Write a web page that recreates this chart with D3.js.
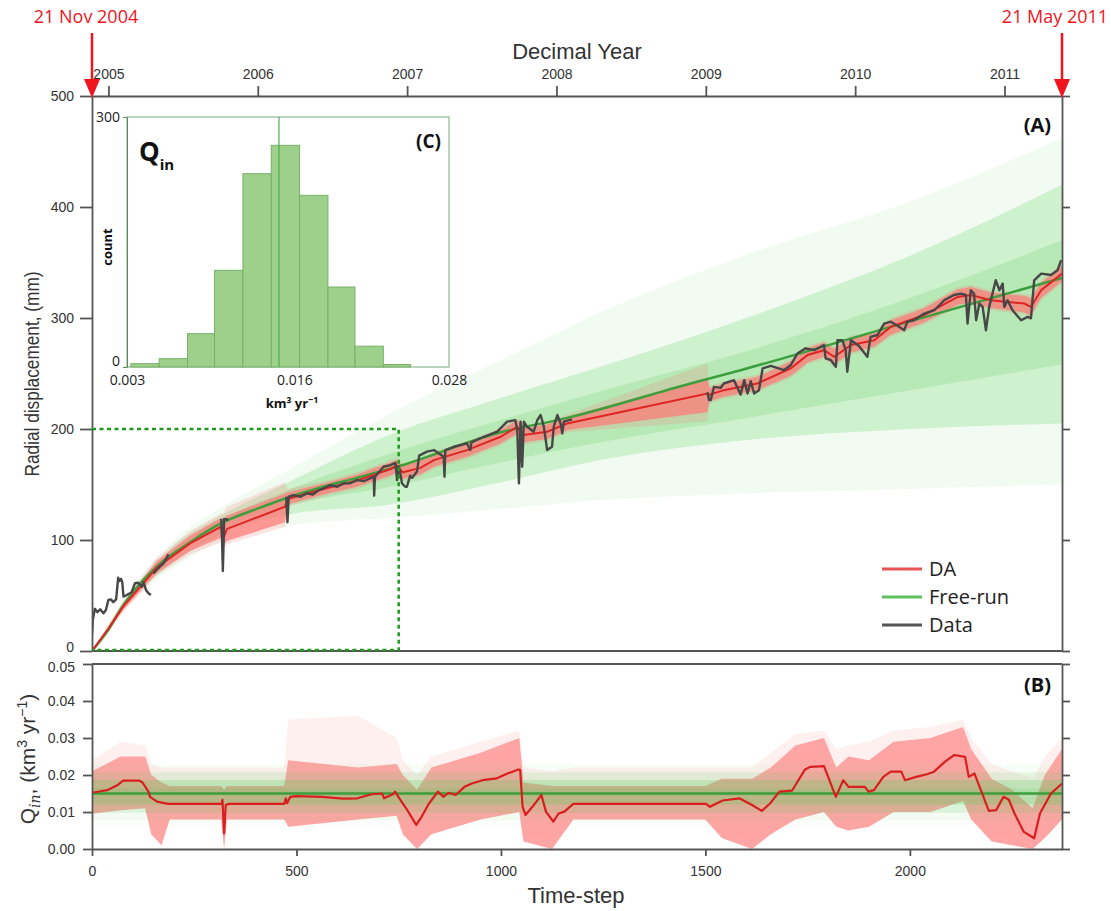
<!DOCTYPE html>
<html><head><meta charset="utf-8">
<script src="https://cdn.jsdelivr.net/npm/d3@7"></script>
<style>body{margin:0;background:#fff}svg{display:block}</style>
</head><body>
<svg id="c" width="1111" height="911"></svg>
<script>
// ---------- axes / ticks ----------
const stepDomain = [0, 2372];
const yearDomain = [2004.89, 2011.385];
const yearTicks = [2005, 2006, 2007, 2008, 2009, 2010, 2011];
const dispTicks = [0, 100, 200, 300, 400, 500];
const qTicks = [0, 0.01, 0.02, 0.03, 0.04, 0.05];
const stepTicks = [0, 500, 1000, 1500, 2000];
const startLabel = "21 Nov 2004", endLabel = "21 May 2011";
const legendNames = ["DA", "Free-run", "Data"];

// ---------- panel A: free-run mean ----------
const freeT = [0, 40, 76, 158, 240, 321, 403, 485, 566, 648, 746, 1000, 1162, 1464, 1586, 2000, 2372];
const freeV = [0, 19, 41, 76, 98, 116, 128, 139, 148, 156, 166, 197, 210, 241, 253, 297, 336];

// ---------- panel A: free-run ensemble envelopes ----------
const fanT       = [0, 100, 200, 320, 480, 730, 1000, 1243, 1600, 2000, 2372];
const fanFaintHi = [0, 58, 100, 130, 163, 214, 262, 305, 357, 405, 462];
const fanHi      = [0, 55, 95, 123, 152, 195, 228, 256, 300, 356, 420];
const fanCoreHi  = [0, 53, 91, 119, 145, 178, 208, 234, 270, 318, 370];
const fanCoreLo  = [0, 50, 85, 112, 131, 148, 170, 188, 210, 235, 258];
const fanLo      = [0, 48, 80, 106, 123, 132, 152, 172, 190, 200, 205];
const fanFaintLo = [0, 45, 75, 100, 113, 120, 128, 136, 142, 146, 150];

// ---------- panel A: DA mean and spread ----------
const daT = [0, 40, 76, 158, 240, 316, 320, 330, 472, 478, 566, 648, 730, 746, 760, 803, 836, 917, 999, 1040, 1056, 1113, 1162, 1505, 1510, 1545, 1627, 1709, 1750, 1790, 1815, 1856, 1913, 1953, 2035, 2117, 2149, 2198, 2280, 2296, 2321, 2372];
const daV = [0, 20, 40, 75, 97, 112, 100, 110, 130, 137, 146, 153.5, 164, 167, 161, 165, 172, 181, 193, 202, 194.6, 197.6, 205, 232, 231, 235, 241, 254.7, 266.7, 271, 265, 275.7, 280, 292, 302.7, 319, 320.7, 316, 313, 310, 325, 340];
const daLo = [0, 18, 37, 70, 90, 102, 95, 99, 116, 132, 141, 148, 158, 161, 155, 159, 166, 175, 187, 196, 188, 191, 199, 215, 225, 229, 235, 248, 260, 265, 258, 269, 274, 285, 296, 312, 314, 309, 305, 302, 318, 333];
const daHi = [0, 22, 43, 81, 104, 120, 118, 122, 142, 143, 151, 159, 170, 172, 167, 172, 178, 187, 199, 208, 201, 204, 211, 246, 237, 241, 247, 261, 273, 278, 272, 282, 286, 298, 309, 326, 328, 323, 320, 318, 332, 347];
const daFaintLo = [0, 17, 35, 68, 87, 98, 92, 96, 112, 130, 139, 146, 156, 159, 153, 157, 164, 173, 185, 194, 186, 189, 197, 207, 223, 227, 233, 246, 258, 263, 256, 267, 272, 283, 294, 310, 312, 307, 303, 300, 316, 331];
const daFaintHi = [0, 23, 45, 84, 108, 124, 124, 130, 152, 146, 153, 161, 172, 174, 169, 174, 180, 189, 201, 210, 203, 206, 213, 259, 239, 243, 249, 263, 275, 280, 274, 284, 288, 300, 311, 328, 330, 325, 322, 320, 334, 349];

// ---------- panel A: observed data (null = gap) ----------
const obsT = [0, 2, 7, 13, 20, 28, 34, 40, 46, 52, 59, 64, 67, 71, 74, 77, 85, 97, 105, 113, 122, 126, 132, 138, 144, null,
  150, 158, 166, 175, 187, null,
  316, 318, 320, 322, 323, 330, 334, null,
  475, 478, 481, 493, 510, 525, 540, 555, 566, 583, 600, 615, 630, 648, 665, 689, 690, 692, 713, 730, 742, 746, 750, 754, 758, 766, 770, 778, 783, 795, 800, 819, 836, 860, 862, 864, 885, 917, 925, 928, 958, 991, 1015, 1035, 1040, 1044, 1048, 1052, 1056, 1064, 1080, 1089, 1097, 1105, 1113, 1125, 1129, 1138, 1146, 1150, 1154, 1174, null,
  1505, 1509, 1513, 1521, 1537, 1545, 1570, 1586, 1595, 1603, 1611, 1619, 1631, 1640, 1660, 1692, 1709, 1725, 1745, 1766, 1790, 1794, 1807, 1819, 1823, 1835, 1843, 1847, 1856, 1875, 1896, 1904, 1921, 1937, 1953, 1970, 1986, 1994, 2010, 2035, 2060, 2084, 2108, 2125, 2137, 2141, 2149, 2157, 2162, 2170, 2178, 2186, 2194, 2210, 2219, 2227, 2231, 2239, 2251, 2272, 2288, 2296, 2304, 2321, 2345, 2361, 2370];
const obsV = [15, 28, 38, 35, 37.5, 34, 37, 46, 46.5, 44, 46.5, 66, 63, 65, 62, 49, 50.5, 53, 61, 61.5, 58, 62, 55, 52, 50.5, null,
  70, 73, 76, 79, 87, null,
  119, 100, 72, 100, 119, 118.5, 118, null,
  139, 116, 139, 140.5, 139, 142, 141, 145, 146.6, 149.5, 148, 151, 151, 154, 153, 157, 140, 157, 166, 167.5, 169.5, 154, 166, 160, 151, 148, 148, 158, 156, 162, 176, 179.6, 181, 175, 157, 181, 184, 187, 181, 188, 193, 197.6, 206.6, 208, 199, 151, 206.6, 166, 206.6, 202, 197.6, 208, 212.6, 202, 181, 184, 202, 212.6, 205, 196, 206.6, 208.7, null,
  233, 226, 226, 238, 237, 241, 244, 231, 244, 232, 243, 232, 235, 254.7, 256.8, 253, 257.7, 268, 272.7, 271, 275.7, 263.7, 262, 256, 280, 280, 271, 251.6, 280, 275, 265, 283, 284.7, 295, 296.7, 293, 289, 296.7, 298, 304, 307, 316, 320.7, 322, 320.7, 295, 325, 322, 298, 313, 310, 289, 310, 334, 325, 331, 310, 316, 307, 298, 301, 299.7, 334, 340, 338.7, 343, 352];

// ---------- panel B: Q_in ----------
const qFree = 0.015;
const qDaT = [0, 37, 63, 76, 116, 124, 138, 142, 159, 186, 317, 319, 323, 327, 334, 470, 474, 477, 485, 500, 562, 614, 649, 684, 710, 714, 736, 741, 754, 771, 793, 806, 824, 846, 859, 872, 889, 911, 929, 955, 990, 1016, 1043, 1047, 1053, 1060, 1077, 1099, 1110, 1128, 1141, 1155, 1177, 1502, 1511, 1542, 1583, 1614, 1638, 1658, 1681, 1712, 1743, 1756, 1790, 1819, 1837, 1850, 1890, 1899, 1912, 1935, 1953, 1979, 1988, 2015, 2042, 2059, 2086, 2108, 2135, 2144, 2158, 2175, 2193, 2211, 2229, 2242, 2256, 2278, 2304, 2318, 2345, 2372];
const qDaV = [0.0152, 0.0159, 0.0173, 0.0185, 0.0185, 0.0179, 0.0155, 0.0141, 0.0128, 0.0122, 0.0122, 0.0133, 0.0042, 0.0119, 0.0122, 0.0122, 0.0137, 0.0124, 0.0141, 0.0143, 0.0141, 0.0136, 0.0137, 0.0148, 0.0150, 0.0137, 0.0148, 0.0155, 0.0133, 0.0105, 0.0065, 0.0087, 0.0123, 0.0155, 0.0141, 0.0152, 0.0146, 0.0168, 0.0177, 0.0186, 0.0191, 0.0204, 0.0215, 0.0214, 0.0114, 0.0092, 0.0114, 0.0146, 0.0101, 0.0074, 0.0096, 0.0101, 0.0122, 0.0122, 0.0114, 0.0131, 0.0137, 0.0119, 0.0103, 0.0123, 0.0155, 0.0158, 0.0214, 0.0222, 0.0224, 0.0141, 0.0186, 0.0168, 0.0168, 0.0155, 0.0159, 0.0195, 0.0209, 0.0209, 0.0186, 0.0195, 0.0202, 0.0209, 0.0236, 0.0254, 0.0249, 0.0195, 0.0204, 0.0155, 0.0103, 0.0105, 0.0141, 0.0133, 0.0096, 0.0047, 0.0029, 0.0096, 0.0150, 0.0177];
const qBandT  = [0, 70, 130, 145, 170, 190, 316, 323, 330, 470, 480, 650, 745, 760, 795, 830, 950, 1045, 1055, 1125, 1177, 1500, 1540, 1614, 1660, 1720, 1790, 1820, 1850, 1900, 1960, 2050, 2130, 2150, 2200, 2250, 2300, 2330, 2372];
const qBandLo = [0.0095, 0.0105, 0.011, 0.004, 0.001, 0.008, 0.008, 0.000, 0.008, 0.008, 0.006, 0.008, 0.009, 0.004, 0.000, 0.004, 0.008, 0.010, 0.002, 0.000, 0.008, 0.008, 0.003, 0.000, 0.004, 0.008, 0.010, 0.006, 0.005, 0.006, 0.010, 0.010, 0.013, 0.008, 0.002, 0.001, 0.000, 0.003, 0.008];
const qBandHi = [0.021, 0.025, 0.025, 0.020, 0.018, 0.017, 0.017, 0.016, 0.017, 0.017, 0.024, 0.022, 0.023, 0.020, 0.016, 0.022, 0.026, 0.030, 0.018, 0.017, 0.017, 0.017, 0.019, 0.019, 0.022, 0.028, 0.030, 0.022, 0.025, 0.024, 0.029, 0.030, 0.033, 0.027, 0.019, 0.016, 0.011, 0.020, 0.027];
const qBandFaintHi = [0.024, 0.029, 0.028, 0.023, 0.022, 0.022, 0.022, 0.022, 0.022, 0.022, 0.035, 0.036, 0.030, 0.024, 0.020, 0.025, 0.029, 0.032, 0.022, 0.021, 0.022, 0.022, 0.022, 0.022, 0.026, 0.031, 0.032, 0.027, 0.028, 0.029, 0.032, 0.033, 0.035, 0.030, 0.023, 0.021, 0.019, 0.025, 0.030];

// ---------- panel C: histogram of free-run Q_in ----------
const binEdges  = [0.0033, 0.0055, 0.0077, 0.0098, 0.0120, 0.0142, 0.0164, 0.0186, 0.0207, 0.0229, 0.0250];
const binCounts = [4, 10, 40, 116, 232, 266, 206, 96, 25, 3];
const histMean = 0.0148;
const histXTicks = [0.003, 0.016, 0.028];
const histYTicks = [0, 300];
const markStep = 750, markDisp = 200;

// =====================================================
const svg = d3.select("#c");
const NUM = "Liberation Sans, Arial, sans-serif";
const ANN = "Open Sans, sans-serif";
const AX = "#555";

const x = d3.scaleLinear().domain(stepDomain).range([92, 1062]);
const xYear = d3.scaleLinear().domain(yearDomain).range([92, 1062]);
const yA = d3.scaleLinear().domain([0, 500]).range([651, 96]);
const yB = d3.scaleLinear().domain([0, 0.05]).range([849, 664]);
const xH = d3.scaleLinear().domain([0.003, 0.028]).range([127, 449]);
const yH = d3.scaleLinear().domain([0, 300]).range([367, 117]);

const defs = svg.append("defs");
defs.append("clipPath").attr("id", "clipA").append("rect")
  .attr("x", 92).attr("y", 96).attr("width", 970).attr("height", 555);
defs.append("clipPath").attr("id", "clipB").append("rect")
  .attr("x", 92).attr("y", 664).attr("width", 970).attr("height", 185);

function band(T, lo, hi, ys, curve) {
  return d3.area().curve(curve || d3.curveLinear)
    .x(i => x(T[i])).y0(i => ys(lo[i])).y1(i => ys(hi[i]))(d3.range(T.length));
}

// ---------- panel A content ----------
const gA = svg.append("g").attr("clip-path", "url(#clipA)");
const fanCol = "#62cf62";
gA.append("path").attr("d", band(fanT, fanFaintLo, fanFaintHi, yA, d3.curveMonotoneX)).attr("fill", fanCol).attr("opacity", 0.09);
gA.append("path").attr("d", band(fanT, fanLo, fanHi, yA, d3.curveMonotoneX)).attr("fill", fanCol).attr("opacity", 0.24);
gA.append("path").attr("d", band(fanT, fanCoreLo, fanCoreHi, yA, d3.curveMonotoneX)).attr("fill", fanCol).attr("opacity", 0.22);

gA.append("path").attr("d", band(daT, daFaintLo, daFaintHi, yA)).attr("fill", "#f77").attr("opacity", 0.2);
gA.append("path").attr("d", band(daT, daLo, daHi, yA)).attr("fill", "#f77").attr("opacity", 0.7);

gA.append("path")
  .attr("d", d3.line().curve(d3.curveMonotoneX).x(i => x(freeT[i])).y(i => yA(freeV[i]))(d3.range(freeT.length)))
  .attr("fill", "none").attr("stroke", "#3c9e3c").attr("stroke-width", 2.5);
gA.append("path")
  .attr("d", d3.line().x(i => x(daT[i])).y(i => yA(daV[i]))(d3.range(daT.length)))
  .attr("fill", "none").attr("stroke", "#e02424").attr("stroke-width", 2);
gA.append("path")
  .attr("d", d3.line().defined(i => obsV[i] !== null).x(i => x(obsT[i])).y(i => yA(obsV[i]))(d3.range(obsT.length)))
  .attr("fill", "none").attr("stroke", "#474747").attr("stroke-width", 2.4).attr("stroke-linejoin", "round");

// ---------- panel B content ----------
const gB = svg.append("g").attr("clip-path", "url(#clipB)");
gB.append("path").attr("d", band(qBandT, qBandLo, qBandFaintHi, yB)).attr("fill", "#f88").attr("opacity", 0.13);
gB.append("path").attr("d", band(qBandT, qBandLo, qBandHi, yB)).attr("fill", "#f88").attr("opacity", 0.72);
const maxC = d3.max(binCounts);
gB.selectAll("rect.qb").data(binCounts).join("rect").attr("class", "qb")
  .attr("x", 92).attr("width", 970)
  .attr("y", (c, i) => yB(binEdges[i + 1])).attr("height", (c, i) => yB(binEdges[i]) - yB(binEdges[i + 1]))
  .attr("fill", "#5ccc5c").attr("opacity", c => 0.5 * c / maxC);
gB.append("line").attr("x1", x(stepDomain[0])).attr("x2", x(stepDomain[1]))
  .attr("y1", yB(qFree)).attr("y2", yB(qFree)).attr("stroke", "#3c9e3c").attr("stroke-width", 2.6);
gB.append("path")
  .attr("d", d3.line().x(i => x(qDaT[i])).y(i => yB(qDaV[i]))(d3.range(qDaT.length)))
  .attr("fill", "none").attr("stroke", "#d81e1e").attr("stroke-width", 2.2).attr("stroke-linejoin", "round");

// ---------- axes ----------
function styleAxis(g, fs) {
  g.selectAll("path,line").attr("stroke", AX).attr("stroke-width", 1.8);
  g.selectAll("text").attr("fill", "#333").style("font-family", NUM).style("font-size", (fs || 14) + "px");
}
svg.append("g").attr("transform", "translate(0,96)")
  .call(d3.axisTop(xYear).tickValues(yearTicks).tickFormat(d3.format("d")).tickSize(10).tickSizeOuter(0).tickPadding(7))
  .call(g => styleAxis(g, 14));
svg.append("g").attr("transform", "translate(92,0)")
  .call(d3.axisLeft(yA).tickValues(dispTicks).tickSize(12).tickSizeOuter(0).tickPadding(6)).call(g => styleAxis(g))
  .call(g => g.selectAll(".tick text").filter(d => d === 0).attr("dy", "0.05em"));
svg.append("g").attr("transform", "translate(1062,0)")
  .call(d3.axisRight(yA).tickValues(dispTicks).tickSize(8).tickSizeOuter(0).tickFormat("")).call(g => styleAxis(g));
svg.append("line").attr("x1", 92).attr("x2", 1062).attr("y1", 651).attr("y2", 651).attr("stroke", AX).attr("stroke-width", 1.8);

svg.append("g").attr("transform", "translate(92,0)")
  .call(d3.axisLeft(yB).tickValues(qTicks).tickFormat(d3.format(".2f")).tickSize(9).tickSizeOuter(0).tickPadding(8)).call(g => styleAxis(g))
  .call(g => g.selectAll(".tick text").filter(d => d === 0.05).attr("dy", "0.5em"));
svg.append("g").attr("transform", "translate(1062,0)")
  .call(d3.axisRight(yB).tickValues(qTicks).tickSize(8).tickSizeOuter(0).tickFormat("")).call(g => styleAxis(g));
svg.append("g").attr("transform", "translate(0,849)")
  .call(d3.axisBottom(x).tickValues(stepTicks).tickFormat(d3.format("d")).tickSize(7).tickSizeOuter(0).tickPadding(10)).call(g => styleAxis(g));
svg.append("line").attr("x1", 92).attr("x2", 1062).attr("y1", 664).attr("y2", 664).attr("stroke", AX).attr("stroke-width", 1.8);

// dashed marker rectangle
svg.append("path")
  .attr("d", `M${x(0)},${yA(markDisp)}H${x(markStep)}V${yA(0) - 1}H${x(0)}`)
  .attr("fill", "none").attr("stroke", "#1f9a1f").attr("stroke-width", 2.5).attr("stroke-dasharray", "4,3.5");

// titles
svg.append("text").attr("x", 577).attr("y", 59).attr("text-anchor", "middle")
  .style("font-family", NUM).style("font-size", "22px").attr("fill", "#333").text("Decimal Year");
svg.append("text").attr("x", 576).attr("y", 903).attr("text-anchor", "middle")
  .style("font-family", NUM).style("font-size", "22px").attr("fill", "#333").text("Time-step");
svg.append("text").attr("transform", "translate(39,374) rotate(-90)").attr("text-anchor", "middle")
  .style("font-family", NUM).style("font-size", "21px").attr("fill", "#333")
  .attr("textLength", 205).attr("lengthAdjust", "spacingAndGlyphs").text("Radial displacement, (mm)");
const qt = svg.append("text").attr("transform", "translate(35,759) rotate(-90)").attr("text-anchor", "middle")
  .style("font-family", NUM).style("font-size", "21px").attr("fill", "#333");
qt.append("tspan").text("Q");
qt.append("tspan").attr("dy", 5).style("font-size", "14px").style("font-style", "italic").style("font-family", "DejaVu Serif, serif").text("in");
qt.append("tspan").attr("dy", -5).text(", (km");
qt.append("tspan").attr("dy", -8).style("font-size", "14px").text("3");
qt.append("tspan").attr("dy", 8).text(" yr");
qt.append("tspan").attr("dy", -8).style("font-size", "14px").text("\u22121");
qt.append("tspan").attr("dy", 8).text(")");

// panel labels
svg.append("text").attr("x", 1051).attr("y", 132).attr("text-anchor", "end")
  .style("font-family", ANN).style("font-weight", 700).style("font-size", "20px").attr("fill", "#111").text("(A)");
svg.append("text").attr("x", 1051).attr("y", 692).attr("text-anchor", "end")
  .style("font-family", ANN).style("font-weight", 700).style("font-size", "20px").attr("fill", "#111").text("(B)");

// legend
const legCols = ["#e85454", "#5cc25c", "#555"];
const legY = [569, 597, 625];
legendNames.forEach((n, i) => {
  svg.append("line").attr("x1", 882).attr("x2", 922).attr("y1", legY[i]).attr("y2", legY[i])
    .attr("stroke", legCols[i]).attr("stroke-width", 3);
  svg.append("text").attr("x", 929).attr("y", legY[i] + 7).style("font-family", ANN).style("font-size", "20px")
    .attr("fill", "#222").text(n);
});

// red date arrows
[[xYear.invert(92), startLabel, 86], [xYear.invert(1062), endLabel, 1055]].forEach(([yr, lab, lx]) => {
  const px = xYear(yr);
  svg.append("line").attr("x1", px).attr("x2", px).attr("y1", 33).attr("y2", 84).attr("stroke", "#f0141e").attr("stroke-width", 2.5);
  svg.append("path").attr("d", `M${px - 8},79L${px + 8},79L${px},98Z`).attr("fill", "#f0141e");
  svg.append("text").attr("x", lx).attr("y", 23).attr("text-anchor", "middle")
    .style("font-family", ANN).style("font-size", "18px").attr("fill", "#f0141e").text(lab);
});

// ---------- inset C ----------
const gC = svg.append("g");
gC.append("rect").attr("x", 127).attr("y", 117).attr("width", 322).attr("height", 250).attr("fill", "#fff")
  .attr("stroke", "#7aa87a").attr("stroke-width", 1);
gC.selectAll("rect.bar").data(binCounts).join("rect").attr("class", "bar")
  .attr("x", (c, i) => xH(binEdges[i])).attr("width", (c, i) => xH(binEdges[i + 1]) - xH(binEdges[i]))
  .attr("y", c => yH(c)).attr("height", c => yH(0) - yH(c))
  .attr("fill", "#9dd08a").attr("stroke", "#78b068").attr("stroke-width", 1);
gC.append("line").attr("x1", xH(histMean)).attr("x2", xH(histMean)).attr("y1", yH(300)).attr("y2", yH(0))
  .attr("stroke", "#4caf50").attr("stroke-width", 1.2);
gC.append("g").attr("transform", "translate(127,0)")
  .call(d3.axisLeft(yH).tickValues(histYTicks).tickSize(4).tickSizeOuter(0).tickPadding(3))
  .call(g => { g.selectAll("path,line").attr("stroke", "#5a8a5a"); g.selectAll("text").attr("fill", "#222").style("font-family", ANN).style("font-size", "14px"); })
  .call(g => g.selectAll(".tick text").filter(d => d === 0).attr("dy", "-0.1em"));
gC.append("g").attr("transform", "translate(0,367)")
  .call(d3.axisBottom(xH).tickValues(histXTicks).tickFormat(d3.format(".3f")).tickSize(0).tickSizeOuter(0).tickPadding(8))
  .call(g => { g.select("path").remove(); g.selectAll("text").attr("fill", "#222").style("font-family", ANN).style("font-size", "14px"); });
const qin = gC.append("text").attr("x", 139).attr("y", 161).style("font-family", ANN).style("font-weight", 700).style("font-size", "26px").attr("fill", "#111");
qin.append("tspan").text("Q");
qin.append("tspan").attr("dy", 9).style("font-size", "15px").text("in");
gC.append("text").attr("x", 441).attr("y", 148).attr("text-anchor", "end")
  .style("font-family", ANN).style("font-weight", 700).style("font-size", "19px").attr("fill", "#111").text("(C)");
gC.append("text").attr("transform", "translate(112,247) rotate(-90)").attr("text-anchor", "middle")
  .style("font-family", ANN).style("font-weight", 700).style("font-size", "13px").attr("fill", "#111").text("count");
const ku = gC.append("text").attr("x", 292).attr("y", 408).attr("text-anchor", "middle")
  .style("font-family", ANN).style("font-weight", 700).style("font-size", "13px").attr("fill", "#111");
ku.append("tspan").text("km\u00b3 yr");
ku.append("tspan").attr("dy", -5).style("font-size", "9px").text("\u22121");
</script>
</body></html>
